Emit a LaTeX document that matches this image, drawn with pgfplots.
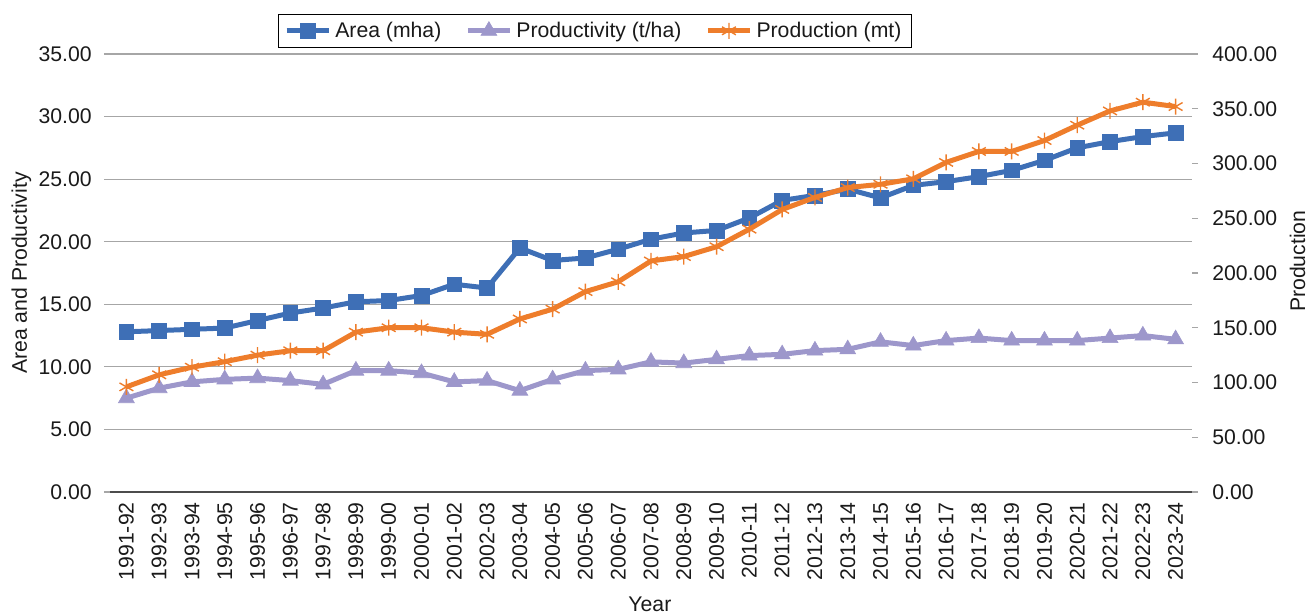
\documentclass[border=0pt]{standalone}
\usepackage{pgfplots}
\pgfplotsset{compat=1.18}
\usepackage{fontspec}
\setmainfont{Liberation Sans}
\definecolor{areablue}{HTML}{3E6FB6}
\definecolor{prodpurple}{HTML}{9D97CB}
\definecolor{prodorange}{HTML}{EE7D2B}
\definecolor{gridgray}{HTML}{A6A6A6}
\definecolor{txt}{HTML}{1A1A1A}

\pgfplotstableread{
x area prodv prodn
0  12.8 7.5  96
1  12.9 8.3  107
2  13.0 8.8  114
3  13.1 9.0  119
4  13.7 9.1  125
5  14.3 8.9  129
6  14.7 8.6  129
7  15.2 9.7  146
8  15.3 9.7  150
9  15.7 9.5  150
10 16.6 8.8  146
11 16.3 8.9  144
12 19.5 8.1  158
13 18.5 9.0  167
14 18.7 9.7  183
15 19.4 9.8  192
16 20.2 10.4 211
17 20.7 10.3 215
18 20.9 10.6 224
19 21.9 10.9 240
20 23.3 11.0 258
21 23.7 11.3 269
22 24.2 11.4 278
23 23.5 12.0 281
24 24.5 11.7 286
25 24.8 12.1 301
26 25.2 12.3 311
27 25.7 12.1 311
28 26.5 12.1 321
29 27.5 12.1 335
30 28.0 12.3 348
31 28.4 12.5 356
32 28.7 12.2 352
}\datatable

\pgfplotsset{
  common/.style={
    scale only axis, width=541pt, height=219pt,
    xmin=-0.5, xmax=32.5,
    font=\fontsize{10.6}{12}\selectfont,
    /pgf/number format/assume math mode=true,
    /pgf/number format/.cd, fixed, fixed zerofill, precision=2, /pgfplots/.cd,
    tick style={draw=gridgray, line width=0.6pt},
    major tick length=3pt,
    tick align=outside,
    every tick label/.append style={text=txt},
    label style={text=txt},
  },
  areastyle/.style={areablue, line width=2.5pt, mark=square*, mark size=3.7pt, mark options={solid, line width=0.3pt}},
  prodvstyle/.style={prodpurple, line width=2.5pt, mark=triangle*, mark size=4.6pt, mark options={solid, line width=0.3pt}},
  prodnstyle/.style={prodorange, line width=2.5pt, mark=asterisk, mark size=4pt, mark options={solid, line width=0.7pt}},
}

\begin{document}
\begin{tikzpicture}
\begin{axis}[
  common,
  ymin=0, ymax=35, ytick={0,5,...,35},
  ymajorgrids, grid style={gridgray, line width=0.6pt},
  axis x line*=bottom, axis y line*=left,
  x axis line style={draw=black!70, line width=0.8pt, -},
  y axis line style={draw=none},
  xtick={0,...,32},
  xtick style={draw=none},
  xticklabels={1991-92,1992-93,1993-94,1994-95,1995-96,1996-97,1997-98,1998-99,1999-00,2000-01,2001-02,2002-03,2003-04,2004-05,2005-06,2006-07,2007-08,2008-09,2009-10,2010-11,2011-12,2012-13,2013-14,2014-15,2015-16,2016-17,2017-18,2018-19,2019-20,2020-21,2021-22,2022-23,2023-24},
  x tick label style={rotate=90, anchor=east, inner sep=0pt},
  xticklabel shift=2pt,
  y tick label style={inner sep=0pt},
  yticklabel shift=6pt,
  xlabel={Year},
  xlabel style={at={(axis description cs:0.499,-0.256)}, anchor=center},
  ylabel={Area and Productivity},
  ylabel style={at={(axis description cs:-0.082,0.5)}, anchor=center},
  legend style={at={(axis description cs:0.155,1.091)}, anchor=north west,
    legend columns=3, draw=black, line width=0.5pt, inner xsep=3pt, inner ysep=1.5pt,
    font=\fontsize{10.6}{12}\selectfont, text=txt,
    /tikz/every even column/.append style={column sep=10pt}},
  legend image code/.code={\draw[mark repeat=2,mark phase=2] plot coordinates {(0cm,0cm)(0.37cm,0cm)(0.74cm,0cm)};},
]
\addplot[areastyle] table[x=x,y=area] {\datatable};
\addlegendentry{Area (mha)}
\addplot[prodvstyle] table[x=x,y=prodv] {\datatable};
\addlegendentry{Productivity (t/ha)}
\addlegendimage{prodnstyle}
\addlegendentry{Production (mt)}
\end{axis}
\begin{axis}[
  common,
  ymin=0, ymax=400, ytick={0,50,...,400},
  axis x line=none, axis y line*=right,
  y axis line style={draw=none},
  y tick label style={inner sep=0pt},
  yticklabel shift=7pt,
  ylabel={Production},
  ylabel style={at={(axis description cs:1.105,0.527)}, anchor=south, inner sep=0pt},
]
\addplot[prodnstyle] table[x=x,y=prodn] {\datatable};
\end{axis}
\pgfresetboundingbox
\path[use as bounding box] (-55pt,-61pt) rectangle (599.5pt,246pt);
\end{tikzpicture}
\end{document}
